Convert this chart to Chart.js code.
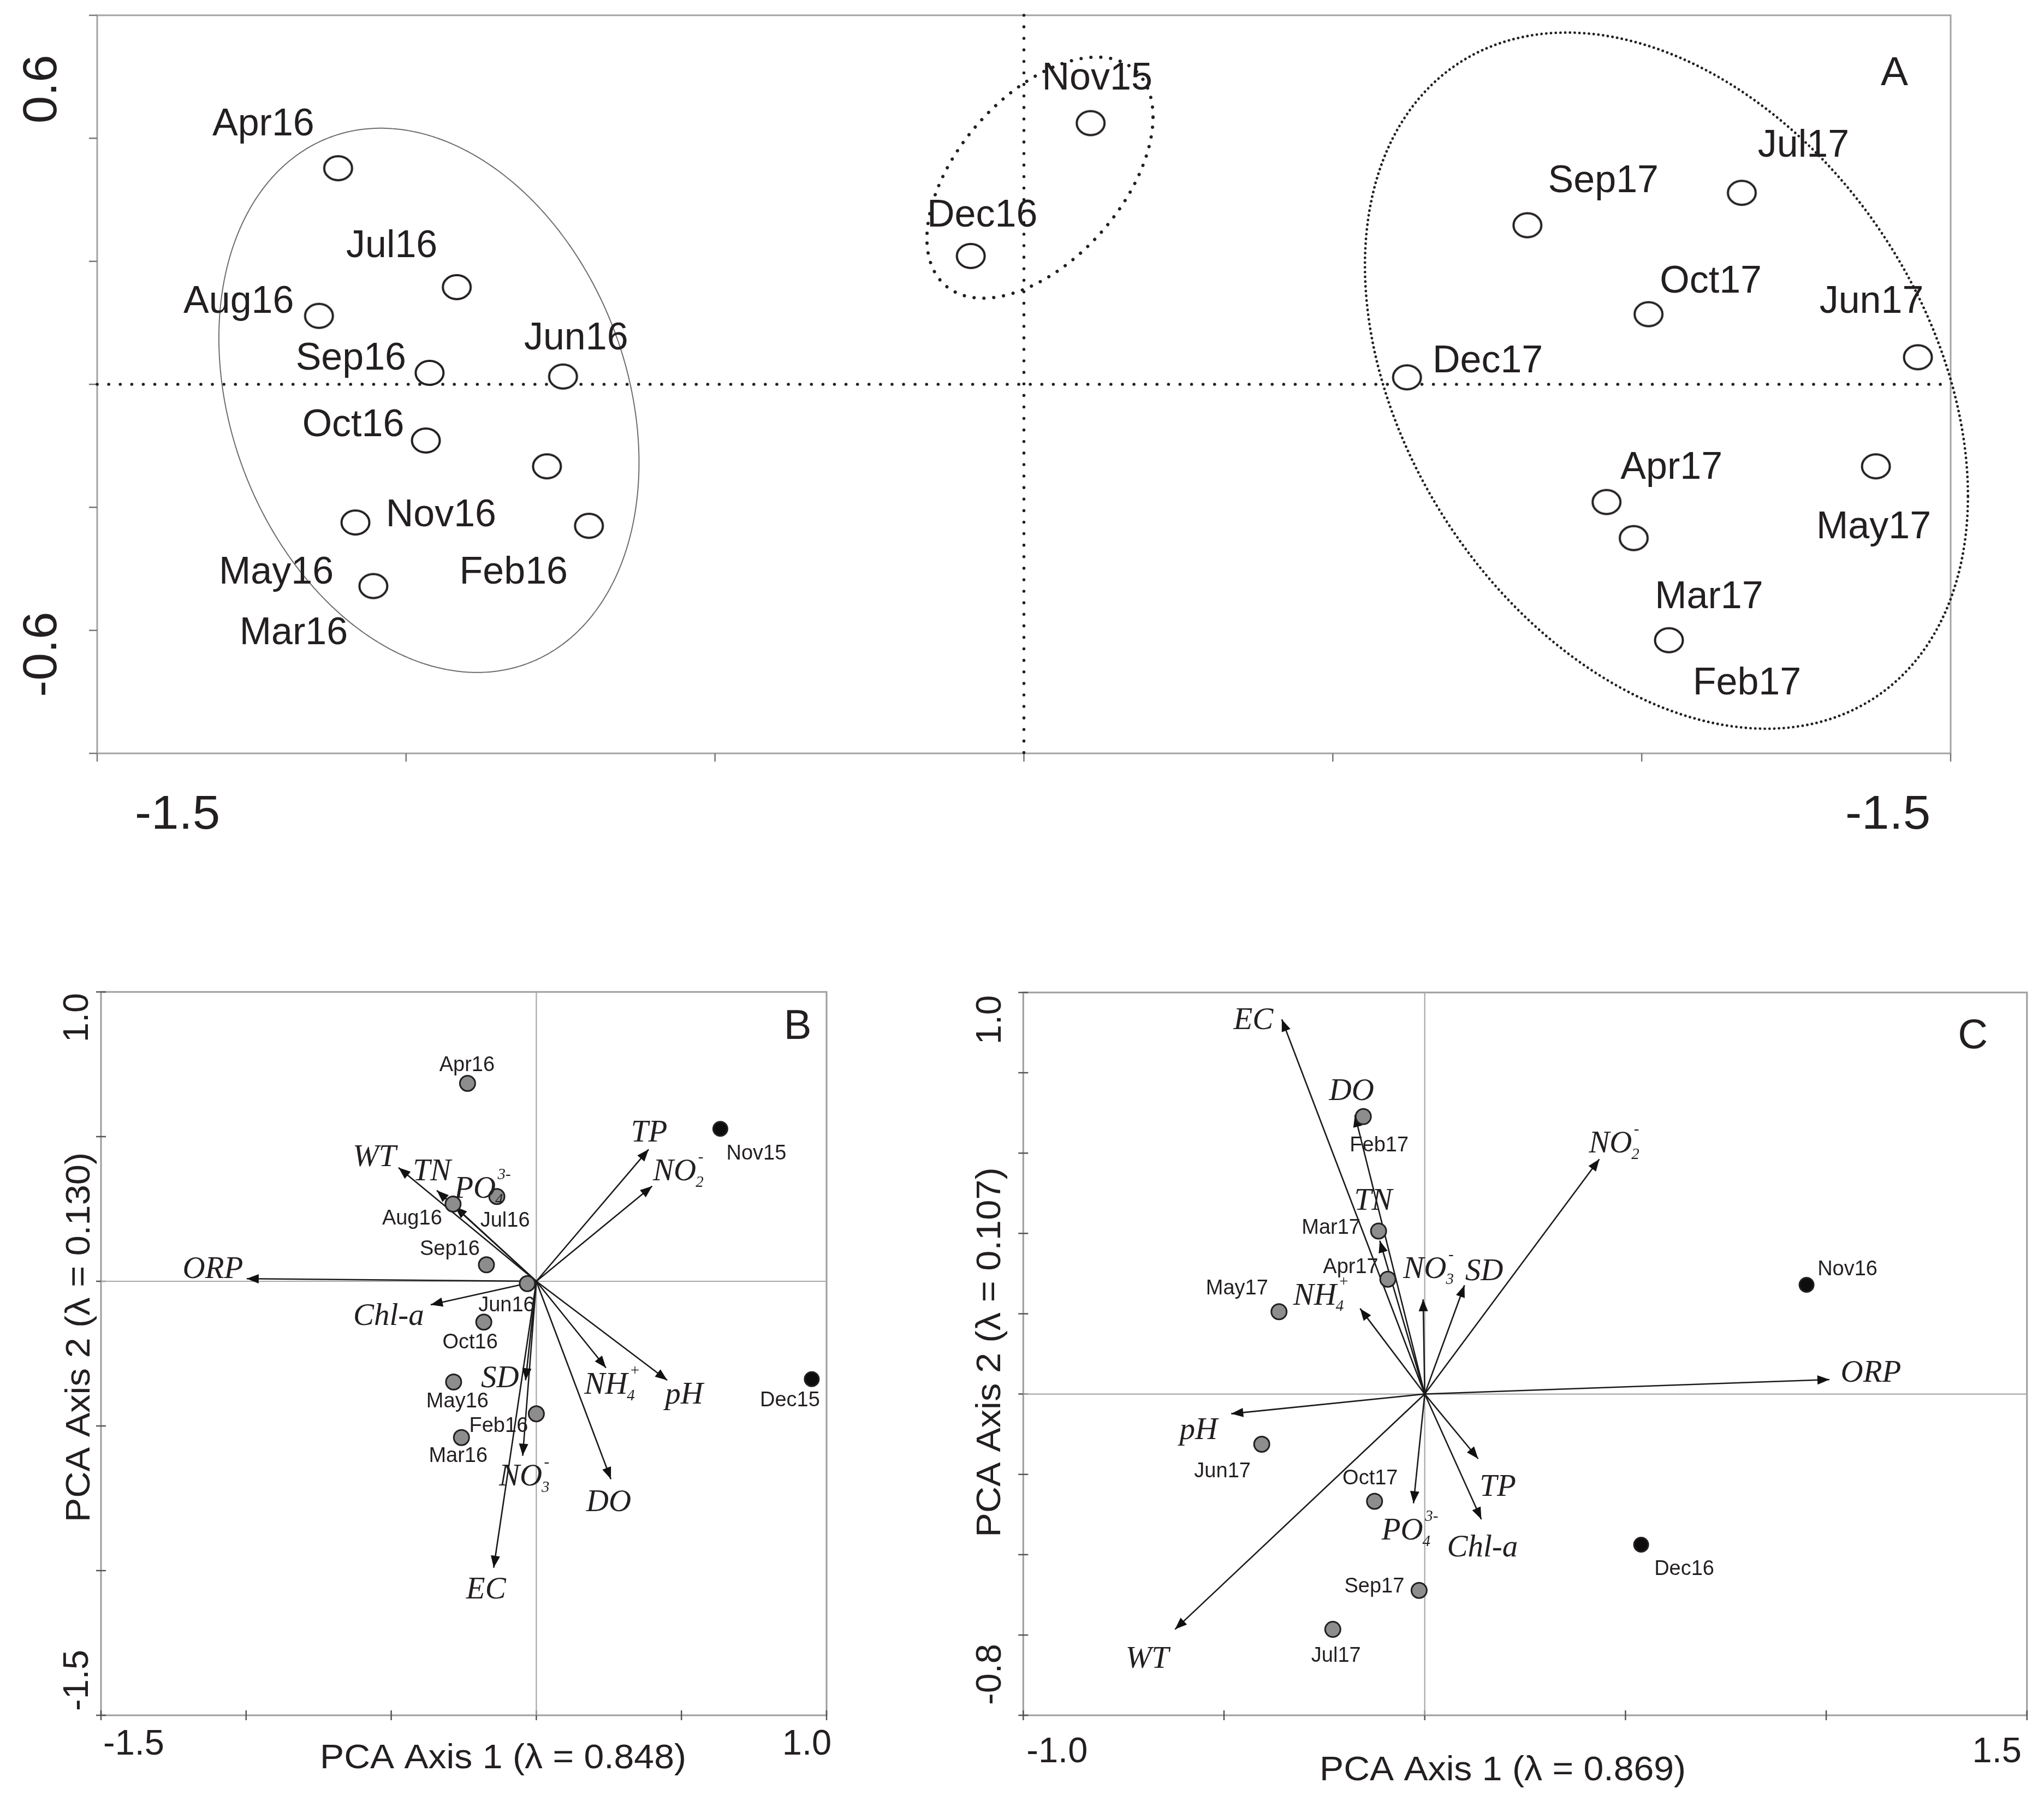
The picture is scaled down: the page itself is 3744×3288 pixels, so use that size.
<!DOCTYPE html>
<html><head><meta charset="utf-8">
<script src="https://cdn.jsdelivr.net/npm/chart.js@4.4.1/dist/chart.umd.min.js"></script>
<style>
html,body{margin:0;padding:0;background:#fff}
body{position:relative;width:3744px;height:3288px;overflow:hidden}
canvas{position:absolute}
</style></head>
<body>
<canvas id="cA" width="3744" height="1600" style="left:0px;top:0px;width:3744px;height:1600px"></canvas>
<canvas id="cB" width="1740" height="1588" style="left:0px;top:1700px;width:1740px;height:1588px"></canvas>
<canvas id="cC" width="2004" height="1588" style="left:1740px;top:1700px;width:2004px;height:1588px"></canvas>
<script>
// ================= DATA =================
// Panel A : PCA sample scores (all months)
const samplesA = ['Nov15','Dec16','Apr16','Jul16','Aug16','Sep16','Jun16','Oct16','Nov16','May16','Feb16','Mar16','Jul17','Sep17','Oct17','Jun17','Dec17','May17','Apr17','Mar17','Feb17'];
const axis1A = [0.108,-0.086,-1.110,-0.918,-1.141,-0.962,-0.746,-0.968,-0.772,-1.082,-0.704,-1.053,1.162,0.815,1.011,1.447,0.620,1.379,0.943,0.987,1.044];
const axis2A = [0.637,0.313,0.527,0.237,0.167,0.028,0.019,-0.137,-0.200,-0.337,-0.345,-0.492,0.467,0.388,0.171,0.066,0.017,-0.200,-0.287,-0.375,-0.624];
// Panel A : group ellipses (centre and two conjugate semi-axes, data units)
const ellCentreX = [-0.963, 0.026, 1.040];
const ellCentreY = [-0.039, 0.504, 0.009];
const ellAxisAX = [0.340, 0.183, 0.488];
const ellAxisAY = [-0.152, 0.148, -0.281];
const ellAxisBX = [0, 0, 0];
const ellAxisBY = [0.646, 0.254, 0.801];
const xTicksA = [-1.5,-1.0,-0.5,0,0.5,1.0,1.5];
const yTicksA = [-0.9,-0.6,-0.3,0,0.3,0.6,0.9];
const xTickLabelValA = [-1.5, 1.5];
const xTickLabelTxtA = ['-1.5','-1.5'];
const yTickLabelValA = [0.6, -0.6];
const yTickLabelTxtA = ['0.6','-0.6'];

// Panel B : 2015-2016 PCA biplot
const samplesB = ['Apr16','Nov15','Jul16','Aug16','Sep16','Jun16','Oct16','May16','Feb16','Mar16','Dec15'];
const axis1B = [-0.237,0.634,-0.136,-0.287,-0.172,-0.031,-0.181,-0.285,0.000,-0.258,0.949];
const axis2B = [0.684,0.527,0.293,0.267,0.057,-0.008,-0.141,-0.348,-0.458,-0.540,-0.338];
const varsB = ['ORP','WT','TN','PO4','Chl-a','TP','NO2','NH4','pH','DO','SD','NO3','EC'];
const load1B = [-0.998,-0.475,-0.343,-0.280,-0.364,0.387,0.399,0.240,0.451,0.257,-0.037,-0.047,-0.147];
const load2B = [0.009,0.393,0.314,0.258,-0.081,0.456,0.329,-0.299,-0.342,-0.684,-0.342,-0.603,-0.990];
const xTicksB = [-1.5,-1.0,-0.5,0,0.5,1.0];
const yTicksB = [-1.5,-1.0,-0.5,0,0.5,1.0];
const xTickLabelValB = [-1.5, 1.0];
const xTickLabelTxtB = ['-1.5','1.0'];
const yTickLabelValB = [1.0, -1.5];
const yTickLabelTxtB = ['1.0','-1.5'];
const xTitleB = 'PCA Axis 1 (\u03BB = 0.848)';
const yTitleB = 'PCA Axis 2 (\u03BB = 0.130)';

// Panel C : 2016-2017 PCA biplot
const samplesC = ['Feb17','Mar17','Apr17','May17','Nov16','Jun17','Oct17','Dec16','Sep17','Jul17'];
const axis1C = [-0.153,-0.115,-0.092,-0.363,0.951,-0.406,-0.125,0.539,-0.014,-0.229];
const axis2C = [0.691,0.406,0.286,0.205,0.272,-0.125,-0.267,-0.375,-0.489,-0.586];
const varsC = ['EC','DO','TN','NO3','SD','NH4','NO2','ORP','pH','TP','Chl-a','PO4','WT'];
const load1C = [-0.356,-0.174,-0.112,-0.004,0.099,-0.161,0.435,1.008,-0.482,0.133,0.141,-0.028,-0.622];
const load2C = [0.933,0.695,0.382,0.236,0.271,0.213,0.585,0.036,-0.049,-0.161,-0.312,-0.272,-0.586];
const xTicksC = [-1.0,-0.5,0,0.5,1.0,1.5];
const yTicksC = [-0.8,-0.6,-0.4,-0.2,0,0.2,0.4,0.6,0.8,1.0];
const xTickLabelValC = [-1.0, 1.5];
const xTickLabelTxtC = ['-1.0','1.5'];
const yTickLabelValC = [1.0, -0.8];
const yTickLabelTxtC = ['1.0','-0.8'];
const xTitleC = 'PCA Axis 1 (\u03BB = 0.869)';
const yTitleC = 'PCA Axis 2 (\u03BB = 0.107)';

// Samples shown in black (outside the main study year)
const blackSamples = ['Nov15','Dec15','Nov16','Dec16'];

// ================= LAYOUT / STYLE (pixels) =================
const INK = '#231f20';
const SANS = '"Liberation Sans", Arial, Helvetica, sans-serif';
const SERIF = '"Liberation Serif", "Times New Roman", serif';
const RICH = { NO2:['NO','2','-'], NO3:['NO','3','-'], NH4:['NH','4','+'], PO4:['PO','4','3-'] };

const labelOffA = [[12,-87],[21,-79],[-137,-85],[-119,-80],[-147,-31],[-144,-31],[24,-75],[-133,-33],[-194,85],[-145,87],[-138,81],[-146,81],[113,-91],[139,-86],[114,-65],[-85,-106],[148,-34],[-4,107],[119,-68],[138,103],[143,74]];
const labelOffB = [[-1,-36],[66,43],[15,42],[-75,24],[-67,-31],[-38,37],[-25,35],[7,33],[-69,20],[-6,31],[-40,36]];
const varOffB = [[-62,-20],[-44,-22],[-9,-37],[51,-35],[-77,18],[1,-33],[49,-29],[12,29],[31,24],[-4,40],[-47,-6],[4,36],[-14,37]];
const labelOffC = [[29,50],[-87,-9],[-68,-25],[-77,-45],[75,-31],[-72,47],[-8,-45],[79,42],[-82,-10],[6,46]];
const varOffC = [[-52,-1],[-6,-46],[-12,-75],[11,-58],[36,-28],[-71,-26],[28,-31],[76,-15],[-60,28],[36,49],[2,49],[-6,48],[-51,52]];

// ================= HELPERS =================
function capText(ctx, s, x, y, size, family, opt) {
  opt = opt || {};
  ctx.save();
  ctx.font = (opt.italic ? 'italic ' : '') + size + 'px ' + family;
  ctx.fillStyle = opt.color || INK;
  ctx.textAlign = 'center';
  ctx.textBaseline = 'alphabetic';
  ctx.translate(x, y);
  if (opt.rot) ctx.rotate(opt.rot);
  if (opt.sx) ctx.scale(opt.sx, 1);
  ctx.fillText(s, 0, size * (opt.cap || 0.716) / 2);
  ctx.restore();
}
function varLabel(ctx, name, cx, cy, size) {
  const p = RICH[name] || [name];
  const small = Math.round(size * 0.5);
  ctx.save();
  ctx.fillStyle = INK; ctx.textBaseline = 'alphabetic'; ctx.textAlign = 'left';
  ctx.font = 'italic ' + size + 'px ' + SERIF;
  const wm = ctx.measureText(p[0]).width;
  ctx.font = 'italic ' + small + 'px ' + SERIF;
  const ws = p[1] ? ctx.measureText(p[1]).width : 0;
  const wp = p[2] ? ctx.measureText(p[2]).width : 0;
  const extra = (p[1] || p[2]) ? Math.max(ws, wp + size * 0.06) + size * 0.02 : 0;
  const x0 = cx - (wm + extra) / 2;
  const base = cy + size * 0.662 / 2;
  ctx.font = 'italic ' + size + 'px ' + SERIF;
  ctx.fillText(p[0], x0, base);
  ctx.font = 'italic ' + small + 'px ' + SERIF;
  if (p[1]) ctx.fillText(p[1], x0 + wm - size * 0.02, base + size * 0.2);
  if (p[2]) ctx.fillText(p[2], x0 + wm + size * 0.06, base - size * 0.6);
  ctx.restore();
}
function drawFrame(chart, o) {
  const { ctx, chartArea: a, scales: { x, y } } = chart;
  ctx.save();
  ctx.strokeStyle = o.frameColor; ctx.lineWidth = o.frameWidth;
  ctx.strokeRect(a.left, a.top, a.right - a.left, a.bottom - a.top);
  ctx.strokeStyle = o.tickColor; ctx.lineWidth = o.tickWidth;
  ctx.beginPath();
  o.xTicks.forEach(v => { const px = x.getPixelForValue(v); ctx.moveTo(px, a.bottom - o.tickIn); ctx.lineTo(px, a.bottom + o.tickOut); });
  o.yTicks.forEach(v => { const py = y.getPixelForValue(v); ctx.moveTo(a.left - o.tickOut, py); ctx.lineTo(a.left + o.tickIn, py); });
  ctx.stroke();
  ctx.restore();
}
function zeroLines(chart, style) {
  const { ctx, chartArea: a, scales: { x, y } } = chart;
  const px = x.getPixelForValue(0), py = y.getPixelForValue(0);
  ctx.save();
  ctx.strokeStyle = style.color; ctx.lineWidth = style.width;
  if (style.dash) { ctx.setLineDash(style.dash); ctx.lineCap = 'round'; }
  ctx.beginPath(); ctx.moveTo(a.left, py); ctx.lineTo(a.right, py); ctx.stroke();
  ctx.beginPath(); ctx.moveTo(px, a.top); ctx.lineTo(px, a.bottom); ctx.stroke();
  ctx.restore();
}
function tickLabels(chart, o) {
  const { ctx, chartArea: a, scales: { x, y } } = chart;
  o.xVal.forEach((v, i) => capText(ctx, o.xTxt[i], x.getPixelForValue(v) + o.xDx[i], a.bottom + o.xDy, o.size, SANS, { sx: o.sx }));
  o.yVal.forEach((v, i) => capText(ctx, o.yTxt[i], a.left + o.yDx, y.getPixelForValue(v) + o.yDy[i], o.size, SANS, { rot: -Math.PI / 2, sx: o.sx }));
}
function arrowHead(ctx, x0, y0, x1, y1, L, W) {
  const ang = Math.atan2(y1 - y0, x1 - x0);
  const c = Math.cos(ang), s = Math.sin(ang);
  ctx.beginPath();
  ctx.moveTo(x1, y1);
  ctx.lineTo(x1 - L * c + W * s, y1 - L * s - W * c);
  ctx.lineTo(x1 - L * c - W * s, y1 - L * s + W * c);
  ctx.closePath();
  ctx.fill();
}
function ringCanvas() {
  const c = document.createElement('canvas'); c.width = 62; c.height = 54;
  const g = c.getContext('2d');
  g.fillStyle = '#fff'; g.strokeStyle = INK; g.lineWidth = 4;
  g.beginPath(); g.ellipse(31, 27, 25.5, 22, 0, 0, Math.PI * 2); g.fill(); g.stroke();
  return c;
}
function baseOptions(pad, xr, yr) {
  return {
    responsive: false, maintainAspectRatio: false, animation: false, devicePixelRatio: 1, events: [],
    layout: { padding: pad },
    scales: {
      x: { type: 'linear', min: xr[0], max: xr[1], display: false },
      y: { type: 'linear', min: yr[0], max: yr[1], display: false }
    },
    plugins: { legend: { display: false }, tooltip: { enabled: false } }
  };
}

// ================= PANEL A =================
const ellStyles = [
  { color: '#6d6d6d', width: 2, dash: null },
  { color: INK, width: 6, dash: [0.1, 18] },
  { color: INK, width: 4.8, dash: [0.1, 8.6] }
];
const plugA = {
  id: 'panelA',
  beforeDatasetsDraw(chart) {
    const { ctx, scales: { x, y } } = chart;
    drawFrame(chart, { frameColor: '#a3a3a3', frameWidth: 3, tickColor: '#777', tickWidth: 2.5, tickIn: 0, tickOut: 15, xTicks: xTicksA, yTicks: yTicksA });
    zeroLines(chart, { color: INK, width: 5.5, dash: [0.1, 21] });
    for (let i = 0; i < ellCentreX.length; i++) {
      const st = ellStyles[i];
      ctx.save();
      ctx.strokeStyle = st.color; ctx.lineWidth = st.width;
      if (st.dash) { ctx.setLineDash(st.dash); ctx.lineCap = 'round'; }
      ctx.beginPath();
      for (let k = 0; k <= 720; k++) {
        const t = k * Math.PI / 360;
        const dx = ellCentreX[i] + ellAxisAX[i] * Math.cos(t) + ellAxisBX[i] * Math.sin(t);
        const dy = ellCentreY[i] + ellAxisAY[i] * Math.cos(t) + ellAxisBY[i] * Math.sin(t);
        const px = x.getPixelForValue(dx), py = y.getPixelForValue(dy);
        if (k === 0) ctx.moveTo(px, py); else ctx.lineTo(px, py);
      }
      ctx.stroke();
      ctx.restore();
    }
  },
  afterDatasetsDraw(chart) {
    const { ctx, chartArea: a, scales: { x, y } } = chart;
    samplesA.forEach((s, i) => {
      capText(ctx, s, x.getPixelForValue(axis1A[i]) + labelOffA[i][0], y.getPixelForValue(axis2A[i]) + labelOffA[i][1], 70, SANS);
    });
    tickLabels(chart, { xVal: xTickLabelValA, xTxt: xTickLabelTxtA, xDx: [147, -115], xDy: 106,
      yVal: yTickLabelValA, yTxt: yTickLabelTxtA, yDx: -107, yDy: [-90, 44], size: 88, sx: 1.03 });
    capText(ctx, 'A', a.right - 103, a.top + 101, 75, SANS);
  }
};
new Chart(document.getElementById('cA'), {
  type: 'scatter',
  data: { datasets: [{
    data: samplesA.map((s, i) => ({ x: axis1A[i], y: axis2A[i] })),
    pointStyle: ringCanvas(), pointRadius: 27, clip: false
  }] },
  options: baseOptions({ left: 178, top: 27.6, right: 171, bottom: 220 }, [-1.5, 1.5], [-0.9, 0.9]),
  plugins: [plugA]
});

// ================= PANELS B & C =================
function biplot(canvasId, pad, xr, yr, S, V, o) {
  const plug = {
    id: 'biplot' + canvasId,
    beforeDatasetsDraw(chart) {
      drawFrame(chart, { frameColor: '#9d9d9d', frameWidth: 3, tickColor: '#555', tickWidth: 2.5, tickIn: 9, tickOut: 9, xTicks: o.xTicks, yTicks: o.yTicks });
      zeroLines(chart, { color: '#a8a8a8', width: 2.2 });
    },
    afterDatasetDraw(chart, args) {
      const ds = chart.data.datasets[args.index];
      if (!ds.isArrow) return;
      const { ctx, scales: { x, y } } = chart;
      ctx.save(); ctx.fillStyle = '#111';
      arrowHead(ctx, x.getPixelForValue(0), y.getPixelForValue(0), x.getPixelForValue(ds.data[1].x), y.getPixelForValue(ds.data[1].y), 22, 8.5);
      ctx.restore();
    },
    afterDatasetsDraw(chart) {
      const { ctx, chartArea: a, scales: { x, y } } = chart;
      S.names.forEach((s, i) => capText(ctx, s, x.getPixelForValue(S.a1[i]) + S.off[i][0], y.getPixelForValue(S.a2[i]) + S.off[i][1], 38, SANS));
      V.names.forEach((v, i) => varLabel(ctx, v, x.getPixelForValue(V.l1[i]) + V.off[i][0], y.getPixelForValue(V.l2[i]) + V.off[i][1], 57));
      tickLabels(chart, o.tickLab);
      const cx = (a.left + a.right) / 2, cy = (a.top + a.bottom) / 2;
      capText(ctx, o.xTitle, cx + o.xTitlePos[0], a.bottom + o.xTitlePos[1], 63, SANS, { sx: 1.05 });
      capText(ctx, o.yTitle, a.left + o.yTitlePos[0], cy + o.yTitlePos[1], 63, SANS, { rot: -Math.PI / 2, sx: 1.06 });
      capText(ctx, o.letter, a.right + o.letterPos[0], a.top + o.letterPos[1], 76, SANS);
    }
  };
  const datasets = [{
    data: S.names.map((s, i) => ({ x: S.a1[i], y: S.a2[i] })),
    pointStyle: 'circle',
    pointRadius: S.names.map(s => blackSamples.includes(s) ? 13 : 14),
    pointBackgroundColor: S.names.map(s => blackSamples.includes(s) ? '#0d0d0d' : '#8d8d8d'),
    pointBorderColor: INK, pointBorderWidth: 3, order: 0, clip: false
  }];
  V.names.forEach((v, i) => datasets.push({
    data: [{ x: 0, y: 0 }, { x: V.l1[i], y: V.l2[i] }], showLine: true, isArrow: true,
    borderColor: '#1a1a1a', borderWidth: 2.6, pointRadius: 0, order: 1, clip: false
  }));
  new Chart(document.getElementById(canvasId), {
    type: 'scatter', data: { datasets },
    options: baseOptions(pad, xr, yr), plugins: [plug]
  });
}

biplot('cB', { left: 185, top: 117, right: 226, bottom: 146 }, [-1.5, 1.0], [-1.5, 1.0],
  { names: samplesB, a1: axis1B, a2: axis2B, off: labelOffB },
  { names: varsB, l1: load1B, l2: load2B, off: varOffB },
  { xTicks: xTicksB, yTicks: yTicksB,
    tickLab: { xVal: xTickLabelValB, xTxt: xTickLabelTxtB, xDx: [60, -36], xDy: 49, yVal: yTickLabelValB, yTxt: yTickLabelTxtB, yDx: -47, yDy: [47, -64], size: 65 },
    xTitle: xTitleB, yTitle: yTitleB, xTitlePos: [72, 74], yTitlePos: [-44, -30], letter: 'B', letterPos: [-53, 59] });

biplot('cC', { left: 134.3, top: 118, right: 31.2, bottom: 146 }, [-1.0, 1.5], [-0.8, 1.0],
  { names: samplesC, a1: axis1C, a2: axis2C, off: labelOffC },
  { names: varsC, l1: load1C, l2: load2C, off: varOffC },
  { xTicks: xTicksC, yTicks: yTicksC,
    tickLab: { xVal: xTickLabelValC, xTxt: xTickLabelTxtC, xDx: [62, -55], xDy: 63, yVal: yTickLabelValC, yTxt: yTickLabelTxtC, yDx: -65, yDy: [50, -75], size: 65 },
    xTitle: xTitleC, yTitle: yTitleC, xTitlePos: [-41, 96], yTitlePos: [-65, -3], letter: 'C', letterPos: [-99, 75] });
</script>
</body></html>
